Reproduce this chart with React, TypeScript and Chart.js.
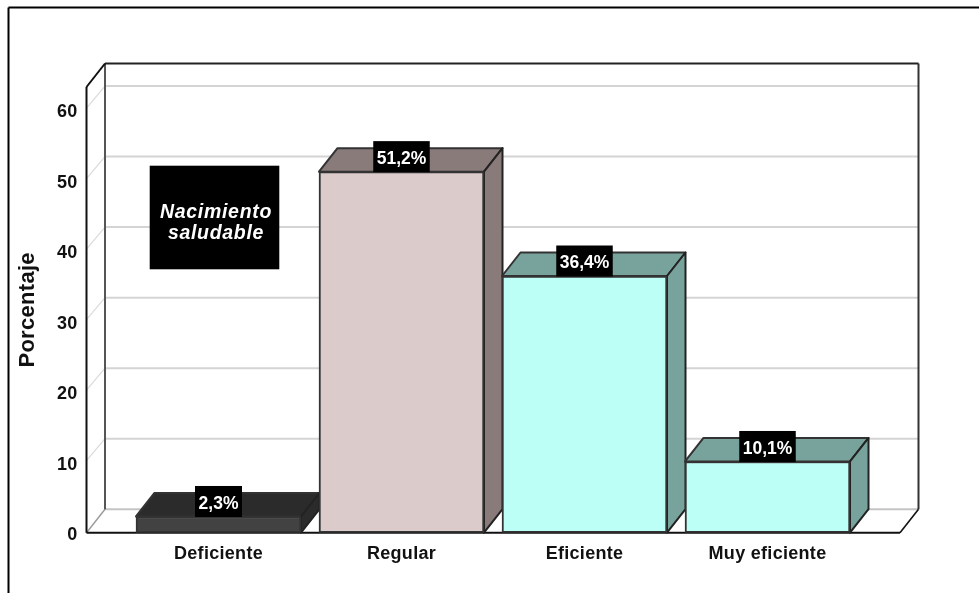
import React, { useEffect, useRef } from "react";
import { Chart, registerables } from "chart.js";

Chart.register(...registerables);

const categories = ["Deficiente", "Regular", "Eficiente", "Muy eficiente"];
const values = [2.3, 51.2, 36.4, 10.1];
const valueLabels = ["2,3%", "51,2%", "36,4%", "10,1%"];
const yTicks = [0, 10, 20, 30, 40, 50, 60];
const legendLines = ["Nacimiento", "saludable"];
const axisTitle = "Porcentaje";

const frontColors = ["#424242", "#DBCBCB", "#BCFFF6", "#BCFFF6"];
const topColors = ["#2B2B2B", "#8A7B7B", "#78A39D", "#78A39D"];
const sideColors = ["#2B2B2B", "#8A7B7B", "#78A39D", "#78A39D"];

const DX = 18.5;
const DY = 23.5;
const FONT = "Liberation Sans, Arial, sans-serif";
const SPACING = "0.3px";

const seg = (ctx: CanvasRenderingContext2D, x0: number, y0: number, x1: number, y1: number, color: string, w: number) => {
  ctx.beginPath();
  ctx.moveTo(x0, y0);
  ctx.lineTo(x1, y1);
  ctx.strokeStyle = color;
  ctx.lineWidth = w;
  ctx.stroke();
};

const poly = (ctx: CanvasRenderingContext2D, pts: number[][], fill: string, stroke: string) => {
  ctx.beginPath();
  pts.forEach(([x, y], i) => (i ? ctx.lineTo(x, y) : ctx.moveTo(x, y)));
  ctx.closePath();
  ctx.fillStyle = fill;
  ctx.fill();
  ctx.strokeStyle = stroke;
  ctx.lineWidth = 2;
  ctx.lineJoin = "round";
  ctx.stroke();
};

const box3d = {
  id: "box3d",
  beforeDraw(chart: any) {
    const { ctx, canvas } = chart;
    (ctx as any).letterSpacing = SPACING;
    ctx.save();
    ctx.fillStyle = "#fff";
    ctx.fillRect(0, 0, canvas.width, canvas.height);
    seg(ctx, 8.5, 593, 8.5, 7.5, "#000", 2);
    seg(ctx, 8.5, 7.5, 979, 7.5, "#000", 2);
    ctx.restore();
  },
  beforeDatasetsDraw(chart: any) {
    const { ctx, chartArea: a, scales } = chart;
    const y = scales.y;
    ctx.save();
    // gridlines on the back wall and the left wall
    yTicks.slice(1).forEach((t) => {
      const p = y.getPixelForValue(t);
      seg(ctx, a.left, p - 1.5, a.left + DX, p - DY, "#DADADA", 1.2);
      seg(ctx, a.left + DX, p - DY, a.right + DX, p - DY, "#D4D4D4", 2);
    });
    // floor & back wall
    seg(ctx, a.left + DX, a.bottom - DY, a.right + DX, a.bottom - DY, "#C4C4C4", 2);
    seg(ctx, a.left, a.bottom, a.left + DX, a.bottom - DY, "#9A9A9A", 1.4);
    seg(ctx, a.left + DX, a.top - DY, a.left + DX, a.bottom - DY, "#555", 2);
    seg(ctx, a.right + DX, a.top - DY, a.right + DX, a.bottom - DY, "#333", 2);
    seg(ctx, a.left + DX, a.top - DY, a.right + DX, a.top - DY, "#222", 2);
    seg(ctx, a.left, a.top, a.left + DX, a.top - DY, "#111", 2);
    seg(ctx, a.left, a.top, a.left, a.bottom, "#111", 2);
    seg(ctx, a.right, a.bottom, a.right + DX, a.bottom - DY, "#111", 1.6);
    seg(ctx, a.left, a.bottom, a.right, a.bottom, "#111", 2);
    // depth faces of the bars
    chart.getDatasetMeta(0).data.forEach((bar: any, i: number) => {
      const half = bar.width / 2;
      const l = bar.x - half;
      const r = bar.x + half;
      poly(ctx, [[l, bar.y], [l + DX, bar.y - DY], [r + DX, bar.y - DY], [r, bar.y]], topColors[i], "#333");
      poly(ctx, [[r, bar.y], [r + DX, bar.y - DY], [r + DX, bar.base - DY], [r, bar.base]], sideColors[i], "#222");
    });
    ctx.restore();
  },
  afterDraw(chart: any) {
    const { ctx } = chart;
    ctx.save();
    ctx.textAlign = "center";
    ctx.textBaseline = "middle";
    chart.getDatasetMeta(0).data.forEach((bar: any, i: number) => {
      const text = valueLabels[i];
      ctx.font = `bold 17.5px ${FONT}`;
      (ctx as any).letterSpacing = "0px";
      const w = text.length > 4 ? 56.5 : 47;
      ctx.fillStyle = "#000";
      ctx.fillRect(bar.x - w / 2, bar.y - 30.5, w, 31);
      ctx.fillStyle = "#fff";
      ctx.fillText(text, bar.x, bar.y - 12.8);
    });
    ctx.fillStyle = "#000";
    ctx.fillRect(149.7, 165.7, 129.6, 103.6);
    ctx.fillStyle = "#fff";
    ctx.font = `italic bold 19.5px ${FONT}`;
    (ctx as any).letterSpacing = "0.7px";
    ctx.fillText(legendLines[0], 216, 213);
    ctx.fillText(legendLines[1], 216, 233.5);
    ctx.restore();
  },
};

export default function App() {
  const ref = useRef<HTMLCanvasElement>(null);
  useEffect(() => {
    const chart = new Chart(ref.current!, {
      type: "bar",
      data: {
        datasets: [
          {
            data: values.map((v, i) => ({ x: i, y: v })),
            backgroundColor: frontColors,
            borderColor: "#333",
            borderWidth: 2,
            borderSkipped: false,
            barThickness: 165,
          },
        ],
      },
      options: {
        animation: false,
        responsive: false,
        devicePixelRatio: 1,
        layout: { padding: { left: 0, top: 87, right: 79, bottom: 0 } },
        plugins: { legend: { display: false }, tooltip: { enabled: false } },
        scales: {
          x: {
            type: "linear",
            offset: false,
            min: -0.7213,
            max: 3.724,
            grid: { display: false, drawTicks: false },
            border: { display: false },
            afterBuildTicks: (s: any) => {
              s.ticks = categories.map((_, i) => ({ value: i }));
            },
            afterFit: (s: any) => {
              s.height = 60.3;
            },
            ticks: {
              autoSkip: false,
              maxRotation: 0,
              minRotation: 0,
              padding: 11,
              color: "#111",
              font: { family: FONT, size: 18, weight: "bold" },
              callback: (v: any) => categories[v] ?? "",
            },
          },
          y: {
            type: "linear",
            min: 0,
            max: 63.2,
            grid: { display: false, drawTicks: false },
            border: { display: false },
            afterBuildTicks: (s: any) => {
              s.ticks = yTicks.map((value) => ({ value }));
            },
            afterFit: (s: any) => {
              s.width = 86.5;
            },
            title: {
              display: true,
              text: axisTitle,
              color: "#111",
              padding: { top: 15, bottom: 0 },
              font: { family: FONT, size: 22, weight: "bold" },
            },
            ticks: {
              padding: 9,
              labelOffset: 2.5,
              color: "#111",
              font: { family: FONT, size: 18, weight: "bold" },
            },
          },
        },
      },
      plugins: [box3d],
    } as any);
    return () => chart.destroy();
  }, []);
  return (
    <canvas
      ref={ref}
      width={979}
      height={593}
      style={{ position: "fixed", left: 0, top: 0, display: "block", width: 979, height: 593 }}
    />
  );
}
